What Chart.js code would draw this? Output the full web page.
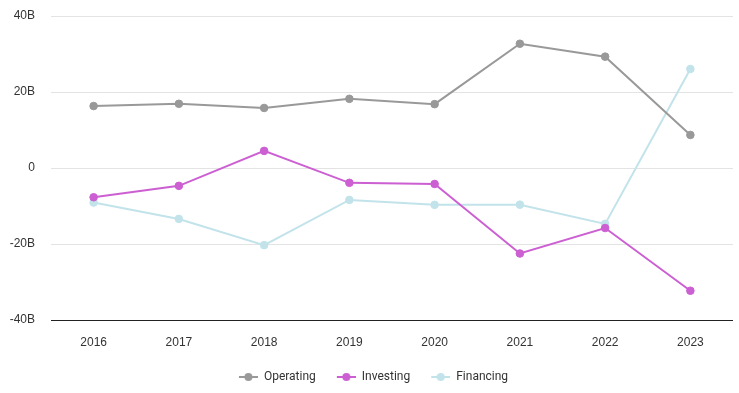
<!DOCTYPE html>
<html>
<head>
<meta charset="utf-8">
<script src="https://cdn.jsdelivr.net/npm/chart.js@4"></script>
<style>
  html, body { margin: 0; padding: 0; background: #fff; }
  #wrap { width: 739px; height: 393px; position: relative; }
</style>
</head>
<body>
<div id="wrap"><canvas id="chart"></canvas></div>
<script>
// === DATOS (miles de millones) ===
const years = ["2016", "2017", "2018", "2019", "2020", "2021", "2022", "2023"];
const operating = [16.3, 16.9, 15.8, 18.2, 16.8, 32.7, 29.3, 8.7];
const investing = [-7.7, -4.7, 4.5, -3.9, -4.2, -22.5, -15.8, -32.3];
const financing = [-9.1, -13.4, -20.3, -8.4, -9.7, -9.65, -14.7, 26.05];
const yTicks = [-40, -20, 0, 20, 40];

const colores = { operating: "#999999", investing: "#cc5fd2", financing: "#c2e3ea" };

// icono de leyenda: linea con circulo (con margen transparente a la izquierda)
function iconoLeyenda(color) {
  const c = document.createElement("canvas");
  c.width = 30; c.height = 10;
  const ctx = c.getContext("2d");
  ctx.strokeStyle = color;
  ctx.lineWidth = 2;
  ctx.beginPath(); ctx.moveTo(11, 5); ctx.lineTo(30, 5); ctx.stroke();
  ctx.fillStyle = color;
  ctx.beginPath(); ctx.arc(20.5, 5, 4, 0, Math.PI * 2); ctx.fill();
  return c;
}

function serie(label, data, color) {
  return {
    label, data,
    borderColor: color,
    backgroundColor: color,
    pointBackgroundColor: color,
    pointBorderColor: color,
    borderWidth: 2,
    pointRadius: 3.8,
    pointBorderWidth: 1,
    pointHoverRadius: 5,
    tension: 0,
    pointStyle: "circle",
    legendIcon: iconoLeyenda(color)
  };
}

const datasets = [
  serie("Operating", operating, colores.operating),
  serie("Investing", investing, colores.investing),
  serie("Financing", financing, colores.financing)
];

new Chart(document.getElementById("chart"), {
  type: "line",
  data: { labels: years, datasets },
  options: {
    responsive: true,
    maintainAspectRatio: false,
    animation: false,
    layout: { padding: { top: 0, right: 3, left: 0, bottom: 0 } },
    scales: {
      x: {
        offset: true,
        afterFit: s => { s.height = 41; },
        grid: { display: false, drawTicks: false },
        border: { display: false },
        ticks: { color: "#333", font: { size: 12, family: "Liberation Sans, Arial" }, padding: 15 }
      },
      y: {
        min: -40, max: 40,
        afterBuildTicks: s => { s.ticks = yTicks.map(v => ({ value: v })); },
        afterFit: s => { s.width = 51; s.paddingTop = 16; s.paddingBottom = 7; },
        grid: {
          color: ctx => ctx.tick && ctx.tick.value === -40 ? "#222" : "#e3e3e3",
          lineWidth: 1,
          drawTicks: false
        },
        border: { display: false },
        ticks: {
          color: "#333",
          font: { size: 12, family: "Liberation Sans, Arial" },
          padding: 16,
          callback: v => v === 0 ? "0" : v + "B"
        }
      }
    },
    plugins: {
      legend: {
        position: "bottom",
        labels: {
          usePointStyle: true,
          pointStyleWidth: 30,
          padding: 10,
          color: "#333",
          font: { size: 12, family: "Roboto, sans-serif" },
          generateLabels: chart => Chart.defaults.plugins.legend.labels.generateLabels(chart).map((l, i) => {
            l.pointStyle = chart.data.datasets[i].legendIcon;
            return l;
          })
        }
      },
      tooltip: { enabled: false }
    }
  }
});
</script>
</body>
</html>
